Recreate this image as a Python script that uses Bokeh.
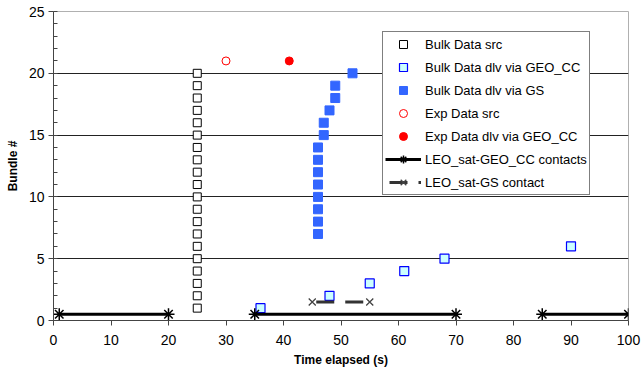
import math
from bokeh.plotting import figure
from bokeh.models import Range1d, FixedTicker, Legend
from bokeh.embed import file_html
from bokeh.resources import INLINE

# Bundle timelines (time in s, bundle number)
bulk_src_t = [25] * 20
bulk_src_n = list(range(1, 21))

bulk_geo_t = [36, 48, 55, 61, 68, 90]
bulk_geo_n = [1, 2, 3, 4, 5, 6]

bulk_gs_t = [46, 46, 46, 46, 46, 46, 46, 46, 47, 47, 48, 49, 49, 52]
bulk_gs_n = [7, 8, 9, 10, 11, 12, 13, 14, 15, 16, 17, 18, 19, 20]

exp_src_t = [30]
exp_src_n = [21]
exp_geo_t = [41]
exp_geo_n = [21]

# Contact windows
geo_start = [1, 35, 85]
geo_end = [20, 70, 100]
geo_level = 0.5

gs_start = [45]
gs_end = [55]
gs_level = 1.5

FONT = "Liberation Sans"


def segments(starts, ends, level):
    xs, ys = [], []
    for s, e in zip(starts, ends):
        xs += [s, e, math.nan]
        ys += [level, level, math.nan]
    return xs[:-1], ys[:-1]


p = figure(width=641, height=374, output_backend="svg", toolbar_location=None,
           x_range=Range1d(0, 100), y_range=Range1d(0, 25),
           min_border_left=53, min_border_right=13, min_border_top=11,
           min_border_bottom=54)
p.background_fill_color = "white"
p.border_fill_color = "white"
p.outline_line_color = "#b0b0b0"

# Bundles
r1 = p.scatter(bulk_src_t, bulk_src_n, marker="square", size=8,
               fill_color="white", line_color="black", line_width=1)
r2 = p.scatter(bulk_geo_t, bulk_geo_n, marker="square", size=9,
               fill_color="#ccffff", line_color="#0000ff", line_width=1.2)
r3 = p.scatter(bulk_gs_t, bulk_gs_n, marker="square", size=9,
               fill_color="#3366ff", line_color="#3366ff")
r4 = p.scatter(exp_src_t, exp_src_n, marker="circle", size=8,
               fill_color="white", line_color="red", line_width=1)
r5 = p.scatter(exp_geo_t, exp_geo_n, marker="circle", size=8,
               fill_color="red", line_color="red")

# Contacts
gx, gy = segments(geo_start, geo_end, geo_level)
r6a = p.line(gx, gy, line_color="black", line_width=3)
r6b = p.scatter(geo_start + geo_end, [geo_level] * (len(geo_start) * 2),
                marker="asterisk", size=12, line_color="black", line_width=1.5)

sx, sy = segments(gs_start, gs_end, gs_level)
r7a = p.line(sx, sy, line_color="#333333", line_width=3, line_dash="18 11",
             line_dash_offset=-4)
r7b = p.scatter(gs_start + gs_end, [gs_level] * (len(gs_start) * 2),
                marker="x", size=10, line_color="#444444", line_width=1.3)

legend = Legend(items=[
    ("Bulk Data src", [r1]),
    ("Bulk Data dlv via GEO_CC", [r2]),
    ("Bulk Data dlv via GS", [r3]),
    ("Exp Data src", [r4]),
    ("Exp Data dlv via GEO_CC", [r5]),
    ("LEO_sat-GEO_CC contacts", [r6a, r6b]),
    ("LEO_sat-GS contact", [r7a, r7b]),
], location=(329, 125))
legend.label_text_font = FONT
legend.label_text_font_size = "13px"
legend.label_text_color = "black"
legend.glyph_width = 36
legend.glyph_height = 20
legend.label_height = 20
legend.label_standoff = 4
legend.spacing = 3
legend.padding = 2
legend.margin = 0
legend.border_line_color = "black"
legend.border_line_width = 1
legend.background_fill_color = "white"
legend.background_fill_alpha = 1
p.add_layout(legend)

# Axes
p.xaxis.ticker = FixedTicker(ticks=list(range(0, 101, 10)))
p.yaxis.ticker = FixedTicker(ticks=list(range(0, 26, 5)),
                             minor_ticks=list(range(0, 26)))
for ax in (p.xaxis[0], p.yaxis[0]):
    ax.major_label_text_font = FONT
    ax.major_label_text_font_size = "14px"
    ax.major_label_text_color = "black"
    ax.axis_label_text_font = FONT
    ax.axis_label_text_font_size = "12px"
    ax.axis_label_text_font_style = "bold"
    ax.axis_label_text_color = "black"
    ax.axis_line_color = "#444444"
    ax.major_tick_line_color = "#444444"
    ax.minor_tick_line_color = "#444444"
    ax.major_tick_out = 5
    ax.major_tick_in = 0
p.xaxis.axis_label = "Time elapsed (s)"
p.yaxis.axis_label = "Bundle #"
p.xaxis.minor_tick_line_color = None
p.xaxis.major_label_standoff = 9
p.xaxis.axis_label_standoff = 5
p.yaxis.minor_tick_in = 4
p.yaxis.minor_tick_out = 0
p.yaxis.major_label_standoff = 4
p.yaxis.axis_label_standoff = 6

p.xgrid.grid_line_color = None
p.ygrid.grid_line_color = "#222222"
p.ygrid.grid_line_width = 1

open("out.html", "w").write(file_html(p, INLINE))
